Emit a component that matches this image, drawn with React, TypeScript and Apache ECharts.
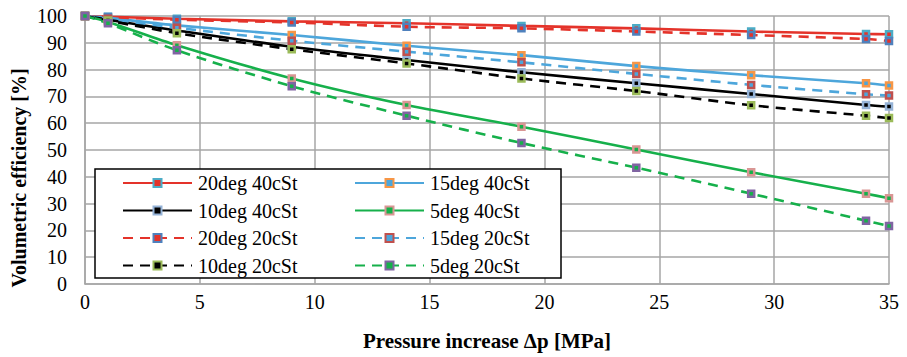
import React, { useEffect, useRef } from "react";
import * as echarts from "echarts";

const pressure = [0, 1, 4, 9, 14, 19, 24, 29, 34, 35];

const deg20cSt40 = [100, 99.7, 99.0, 98.0, 97.3, 96.3, 95.4, 94.2, 93.3, 93.2];
const deg15cSt40 = [100, 99.3, 96.5, 92.9, 88.9, 85.4, 81.3, 77.9, 74.9, 74.1];
const deg10cSt40 = [100, 98.6, 94.6, 88.5, 83.6, 79.0, 74.9, 70.9, 66.8, 66.2];
const deg5cSt40 = [100, 97.8, 89.1, 76.7, 66.8, 58.7, 50.2, 41.7, 33.7, 32.0];
const deg20cSt20 = [100, 99.6, 98.6, 97.6, 96.0, 95.4, 94.2, 92.9, 91.4, 90.7];
const deg15cSt20 = [100, 99.0, 95.6, 90.8, 86.7, 82.7, 78.4, 74.3, 70.8, 70.3];
const deg10cSt20 = [100, 98.3, 93.6, 87.6, 82.3, 76.7, 72.0, 66.7, 62.8, 61.9];
const deg5cSt20 = [100, 97.3, 87.2, 73.8, 62.8, 52.6, 43.4, 33.7, 23.6, 21.6];

const seriesNames = [
  "20deg 40cSt",
  "15deg 40cSt",
  "10deg 40cSt",
  "5deg 40cSt",
  "20deg 20cSt",
  "15deg 20cSt",
  "10deg 20cSt",
  "5deg 20cSt",
];
const seriesValues = [
  deg20cSt40,
  deg15cSt40,
  deg10cSt40,
  deg5cSt40,
  deg20cSt20,
  deg15cSt20,
  deg10cSt20,
  deg5cSt20,
];
const lineColors = ["#E4332A", "#4DA6DB", "#000000", "#16B04B", "#E4332A", "#4DA6DB", "#000000", "#16B04B"];
const markerColors = ["#4BACC6", "#F79646", "#95B3D7", "#D99694", "#4F81BD", "#C0504D", "#9BBB59", "#8064A2"];
const dashed = [false, false, false, false, true, true, true, true];

const xTicks = { min: 0, max: 35, interval: 5 };
const yTicks = { min: 0, max: 100, interval: 10 };

const FONT = "'Liberation Serif', 'Times New Roman', serif";

export default function App() {
  const ref = useRef<HTMLDivElement>(null);

  useEffect(() => {
    if (!ref.current) return;
    const chart = echarts.init(ref.current, undefined, { renderer: "svg" });

    const series = seriesNames.map((name, i) => ({
      name,
      type: "line",
      smooth: 0.3,
      data: pressure.map((p, j) => [p, seriesValues[i][j]]),
      symbol: "rect",
      symbolSize: 6,
      showSymbol: true,
      lineStyle: {
        color: lineColors[i],
        width: 2.6,
        type: dashed[i] ? [10, 7] : "solid",
      },
      itemStyle: {
        color: lineColors[i],
        borderColor: markerColors[i],
        borderWidth: 2.5,
      },
      z: 2,
    }));

    const legendBase = {
      orient: "vertical",
      padding: 0,
      itemWidth: 69,
      itemHeight: 10,
      itemGap: 7.5,
      selectedMode: false,
      z: 5,
      textStyle: {
        fontFamily: FONT,
        fontSize: 20,
        lineHeight: 20,
        color: "#000",
        padding: [0, 0, 0, 1],
      },
    };

    chart.setOption({
      animation: false,
      backgroundColor: "#fff",
      grid: { left: 85, right: 18, top: 16, bottom: 73, containLabel: false },
      xAxis: {
        type: "value",
        min: xTicks.min,
        max: xTicks.max,
        interval: xTicks.interval,
        axisLine: { show: true, lineStyle: { color: "#A6A6A6", width: 1.5 } },
        axisTick: { show: false },
        axisLabel: { margin: 8, fontFamily: FONT, fontSize: 20, color: "#000" },
        splitLine: { show: true, lineStyle: { color: "#A6A6A6", width: 1.5 } },
      },
      yAxis: {
        type: "value",
        min: yTicks.min,
        max: yTicks.max,
        interval: yTicks.interval,
        axisLine: { show: true, lineStyle: { color: "#A6A6A6", width: 1.5 } },
        axisTick: { show: false },
        axisLabel: { margin: 18, fontFamily: FONT, fontSize: 20, color: "#000" },
        splitLine: { show: true, lineStyle: { color: "#A6A6A6", width: 1.5 } },
      },
      legend: [
        {
          ...legendBase,
          left: 122,
          top: 173,
          data: [seriesNames[0], seriesNames[2], seriesNames[4], seriesNames[6]],
        },
        {
          ...legendBase,
          left: 354,
          top: 173,
          data: [seriesNames[1], seriesNames[3], seriesNames[5], seriesNames[7]],
        },
      ],
      graphic: [
        {
          type: "rect",
          z: 3,
          shape: { x: 95, y: 169, width: 466, height: 109 },
          style: { fill: "#fff", stroke: "#000", lineWidth: 1.5 },
        },
        {
          type: "text",
          x: 19,
          y: 178,
          rotation: Math.PI / 2,
          style: {
            text: "Volumetric efficiency [%]",
            font: `bold 20px ${FONT}`,
            fill: "#000",
            align: "center",
            verticalAlign: "middle",
          },
        },
        {
          type: "text",
          x: 487,
          y: 341,
          style: {
            text: "Pressure increase Δp [MPa]",
            font: `bold 21px ${FONT}`,
            fill: "#000",
            align: "center",
            verticalAlign: "middle",
          },
        },
      ],
      series,
    });

    return () => chart.dispose();
  }, []);

  return (
    <div
      ref={ref}
      style={{ position: "absolute", left: 0, top: 0, width: 907, height: 357 }}
    />
  );
}
